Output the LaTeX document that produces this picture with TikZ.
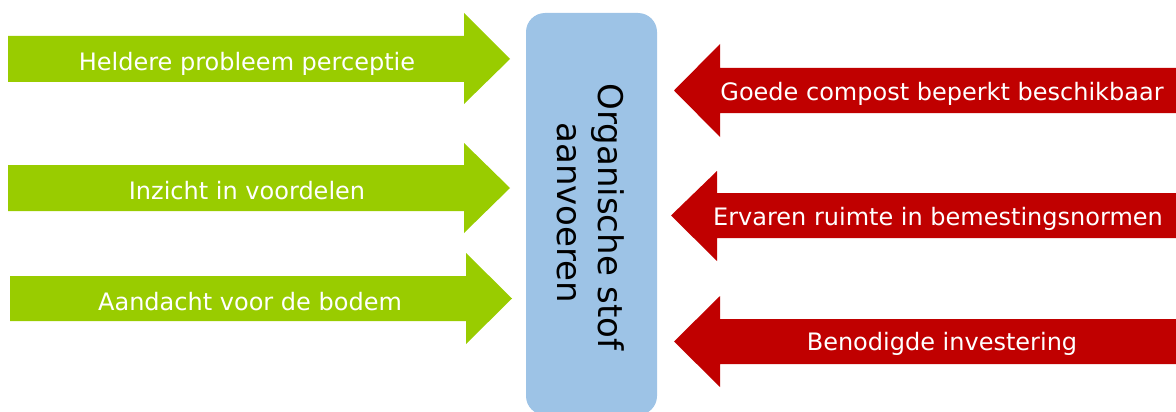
\documentclass[tikz,border=0pt]{standalone}
\usepackage{fontspec}
\setmainfont{DejaVu Sans}
\definecolor{forcegreen}{HTML}{99CC00}
\definecolor{forcered}{HTML}{C00000}
\definecolor{goalblue}{HTML}{9DC3E6}
\tikzset{
  pushlabel/.style={text=white, inner sep=0pt, anchor=base,
    font=\fontsize{24}{29}\selectfont},
  goallabel/.style={text=black, inner sep=0pt, anchor=base, rotate=-90,
    font=\fontsize{34}{41}\selectfont},
}
\begin{document}
\begin{tikzpicture}[x=1pt, y=-1pt]
\useasboundingbox (0,0) rectangle (1176,412);

% central goal box
\node[fill=goalblue, rounded corners=19pt, minimum width=131pt,
      minimum height=402pt, inner sep=0pt] (goal) at (591.5,214) {};

% driving forces (green, pointing right)
\fill[forcegreen] (8,36) -- (464,36) -- (464,13) -- (510,59) -- (464,104) -- (464,82) -- (8,82) -- cycle;
\fill[forcegreen] (8,165) -- (464,165) -- (464,143) -- (510,188) -- (464,233) -- (464,211) -- (8,211) -- cycle;
\fill[forcegreen] (10,276) -- (466,276) -- (466,253) -- (512,298.5) -- (466,344) -- (466,321) -- (10,321) -- cycle;

% restraining forces (red, pointing left)
\fill[forcered] (1176,68) -- (720,68) -- (720,44) -- (674,90.5) -- (720,137) -- (720,113) -- (1176,113) -- cycle;
\fill[forcered] (1176,193) -- (717,193) -- (717,171) -- (671,215.5) -- (717,261) -- (717,238) -- (1176,238) -- cycle;
\fill[forcered] (1176,319) -- (720,319) -- (720,296) -- (674,341.5) -- (720,387) -- (720,364) -- (1176,364) -- cycle;

% labels
\node[pushlabel] (g1) at (247,70.6) {Heldere probleem perceptie};
\node[pushlabel] (g2) at (247,199) {Inzicht in voordelen};
\node[pushlabel] (g3) at (250,310.6) {Aandacht voor de bodem};
\node[pushlabel] (r1) at (942,100.7) {Goede compost beperkt beschikbaar};
\node[pushlabel] (r2) at (938,225) {Ervaren ruimte in bemestingsnormen};
\node[pushlabel] (r3) at (942,350.7) {Benodigde investering};

\node[goallabel] (goal1) at (598,217) {Organische stof};
\node[goallabel] (goal2) at (557,213) {aanvoeren};
\end{tikzpicture}
\end{document}
